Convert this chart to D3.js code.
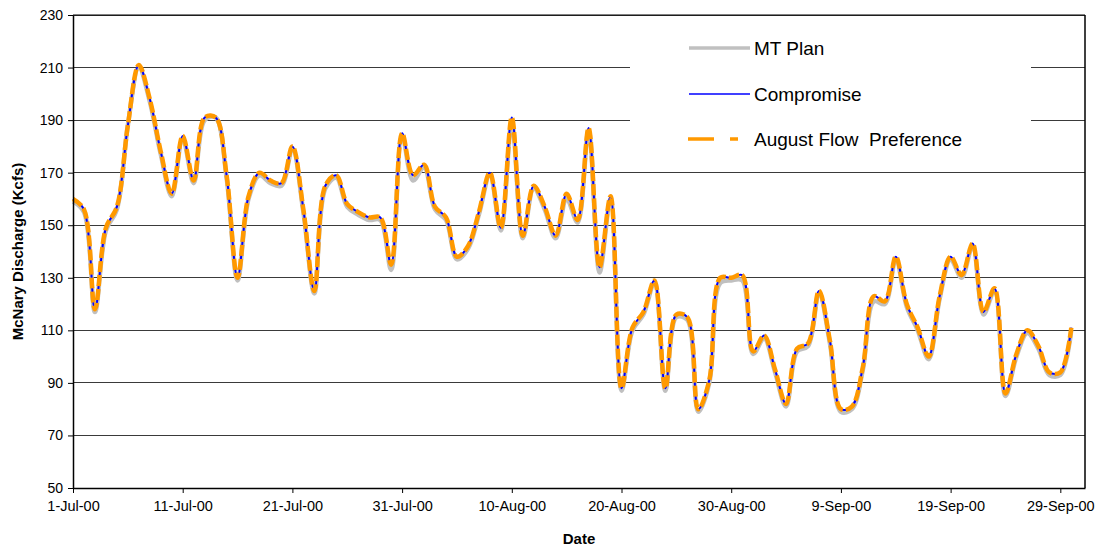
<!DOCTYPE html>
<meta charset="utf-8">
<title>McNary Discharge</title>
<script src="https://d3js.org/d3.v7.min.js"></script>
<style>
  body { margin: 0; background: #fff; }
  text { font-family: "Liberation Sans", Arial, sans-serif; fill: #000; }
  .y-ax .tick text { font-size: 14px; }
  .x-ax .tick text { font-size: 14.5px; }
  text.axis-title { font-size: 15px; font-weight: bold; }
  text.legend { font-size: 19px; white-space: pre; }
</style>
<div id="chart"></div>
<script>
// daily values, 1-Jul-00 .. 30-Sep-00 (kcfs)
var startDate = new Date(2000, 6, 1);
var mtPlan = [159,155,117,148,156,188,210,197,177,161,183,166,190,191,168,129,160,169,166,165,179,155,124,164,168,157,154,152,152,133,184,167,172,156,152,137,141,154,169,148,189,145,164,156,145,160,151,186,132,160,87,110,116,128,87,115,114,79,90,128,129,129,101,107,94,81,102,104,124,105,79,80,95,121,120,137,119,110,99,122,137,130,142,116,125,85,100,109,103,93,93,110];
var compromise = [160,156,118,149,157,188,211,198,178,162,184,167,191,191,169,130,161,170,167,166,180,156,125,165,169,158,155,153,153,135,185,169,173,157,153,138,142,155,170,149,191,146,165,157,146,162,152,187,134,161,88,111,117,129,88,116,115,80,91,130,130,131,102,108,95,82,103,105,125,106,80,81,96,123,121,138,120,111,100,123,138,131,143,117,126,86,101,110,104,94,94,111];
var august = [160,156,118,149,157,188,211,198,178,162,184,167,191,191,169,130,161,170,167,166,180,156,125,165,169,158,155,153,153,135,185,169,173,157,153,138,142,155,170,149,191,146,165,157,146,162,152,187,134,161,88,111,117,129,88,116,115,80,91,130,130,131,102,108,95,82,103,105,125,106,80,81,96,123,121,138,120,111,100,123,138,131,143,117,126,86,101,110,104,94,94,111];
var yTicks = [50,70,90,110,130,150,170,190,210,230];
var xTickDates = ["2000-07-01","2000-07-11","2000-07-21","2000-07-31","2000-08-10","2000-08-20","2000-08-30","2000-09-09","2000-09-19","2000-09-29"];
var seriesNames = ["MT Plan", "Compromise", "August Flow  Preference"];

var W = 1107, H = 550;
var margin = {top: 15, right: 22, bottom: 62, left: 73};
var width = W - margin.left - margin.right,
    height = H - margin.top - margin.bottom;

var svg = d3.select("#chart").append("svg")
    .attr("width", W).attr("height", H);
var g = svg.append("g")
    .attr("transform", "translate(" + margin.left + "," + margin.top + ")");

var dayMs = 864e5;
function day(i) { return new Date(startDate.getTime() + i * dayMs); }

var x = d3.scaleTime()
    .domain([startDate, day(92.25)])
    .range([0, width]);
var y = d3.scaleLinear()
    .domain([50, 230])
    .range([height, 0]);

var parse = d3.timeParse("%Y-%m-%d");
var fmt = function(d) { return d3.timeFormat("%-d-%b-%y")(d); };

// gridlines
g.append("g").selectAll("line")
  .data(yTicks)
  .enter().append("line")
    .attr("x1", 0).attr("x2", width)
    .attr("y1", function(d) { return y(d); })
    .attr("y2", function(d) { return y(d); })
    .attr("stroke", "#3a3a3a")
    .attr("stroke-width", 1)
    .attr("shape-rendering", "crispEdges");

// white box behind the legend
g.append("rect")
  .attr("x", 557).attr("y", 17)
  .attr("width", 401).attr("height", 140)
  .attr("fill", "#fff");

// series
var line = d3.line()
  .x(function(d, i) { return x(day(i)); })
  .y(function(d) { return y(d); })
  .curve(d3.curveCatmullRom.alpha(0.5));

g.append("path").datum(mtPlan)
  .attr("d", line).attr("fill", "none")
  .attr("stroke", "#c0c0c0").attr("stroke-width", 4.5);
g.append("path").datum(compromise)
  .attr("d", line).attr("fill", "none")
  .attr("stroke", "#0000ff").attr("stroke-width", 2);
g.append("path").datum(august)
  .attr("d", line).attr("fill", "none")
  .attr("stroke", "#ff9900").attr("stroke-width", 4.5)
  .attr("stroke-dasharray", "11,3");

// axes
var yAxis = g.append("g").attr("class", "y-ax")
  .call(d3.axisLeft(y).tickValues(yTicks).tickSize(5).tickSizeOuter(0));
var xAxis = g.append("g").attr("class", "x-ax")
  .attr("transform", "translate(0," + height + ")")
  .call(d3.axisBottom(x).tickValues(xTickDates.map(parse)).tickFormat(fmt).tickSize(5).tickSizeOuter(0));
[yAxis, xAxis].forEach(function(a) {
  a.select(".domain").attr("stroke", "#000").attr("stroke-width", 1.5);
  a.selectAll(".tick line").attr("stroke", "#000");
  a.selectAll(".tick text").attr("fill", "#000").attr("font-size", null);
});
yAxis.selectAll(".tick text").attr("x", -10);
xAxis.selectAll(".tick text").attr("y", 13);

// right and top frame
g.append("line").attr("x1", width).attr("x2", width)
  .attr("y1", 0).attr("y2", height)
  .attr("stroke", "#000").attr("stroke-width", 1.5);
g.append("line").attr("x1", 0).attr("x2", width)
  .attr("y1", 0).attr("y2", 0)
  .attr("stroke", "#000").attr("stroke-width", 1);

// axis titles
svg.append("text")
  .attr("class", "axis-title")
  .attr("transform", "translate(23," + (margin.top + height / 2) + ") rotate(-90)")
  .attr("text-anchor", "middle")
  .text("McNary Discharge (Kcfs)");
svg.append("text")
  .attr("class", "axis-title")
  .attr("x", 579).attr("y", 544)
  .attr("text-anchor", "middle")
  .text("Date");

// legend
var legendY = [48, 94, 139];
var lg = svg.append("g");
lg.append("line").attr("x1", 689).attr("x2", 750).attr("y1", legendY[0]).attr("y2", legendY[0])
  .attr("stroke", "#c0c0c0").attr("stroke-width", 3.5);
lg.append("line").attr("x1", 689).attr("x2", 750).attr("y1", legendY[1]).attr("y2", legendY[1])
  .attr("stroke", "#0000ff").attr("stroke-width", 1.5);
lg.append("line").attr("x1", 688).attr("x2", 738).attr("y1", legendY[2]).attr("y2", legendY[2])
  .attr("stroke", "#ff9900").attr("stroke-width", 3.5)
  .attr("stroke-dasharray", "26,16,8");
lg.selectAll("text.legend")
  .data(seriesNames)
  .enter().append("text")
    .attr("class", "legend")
    .attr("x", 754)
    .attr("y", function(d, i) { return legendY[i] + 7; })
    .text(function(d) { return d; });
</script>
